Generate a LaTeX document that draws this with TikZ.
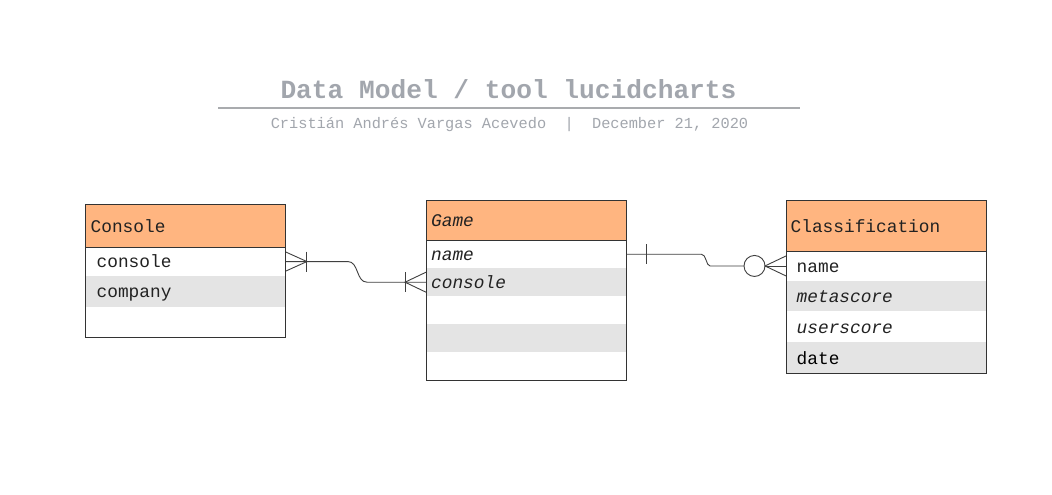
\documentclass[tikz,border=0pt]{standalone}
\usepackage{fontspec}
\setmainfont{Liberation Mono}
\setmonofont{Liberation Mono}
\definecolor{hdrfill}{HTML}{FFB580}
\definecolor{rowgray}{HTML}{E4E4E4}
\definecolor{titlegray}{HTML}{A2A6AD}
\definecolor{rulegray}{HTML}{A9ABAE}
\definecolor{txtc}{HTML}{222222}
\definecolor{framec}{HTML}{333333}
\definecolor{linec}{HTML}{404040}
\newcommand{\tblfont}{\fontsize{17.8pt}{21pt}\selectfont}
\begin{document}
\begin{tikzpicture}[x=1pt,y=-1pt,
  cell/.style={anchor=north west, inner sep=0pt, minimum width=200pt, draw=none},
  hdr/.style={cell, fill=hdrfill},
  cellw/.style={cell, fill=white},
  cellg/.style={cell, fill=rowgray},
  frame/.style={draw=framec, line width=0.9pt},
  lbl/.style={anchor=base west, inner sep=0pt, font=\tblfont, text=txtc},
  ilbl/.style={lbl, font=\tblfont\itshape},
  conn/.style={draw=linec, line width=0.9pt},
  ttl/.style={anchor=base, inner sep=0pt, text=titlegray}
  ]
\useasboundingbox (0,0) rectangle (1052,495);
\fill[white] (0,0) rectangle (1052,495);

% Title block
\node[ttl, font=\fontsize{26.2pt}{30pt}\selectfont\bfseries] (title) at (508.5,98.3) {Data Model / tool lucidcharts};
\node[ttl, font=\fontsize{15.3pt}{18pt}\selectfont] (subtitle) at (509.5,128) {Cristián Andrés Vargas Acevedo~~|~~December 21, 2020};
\draw[rulegray, line width=1.8pt] (218,107.7) -- (800,107.7);

% Console table
\node[hdr, minimum height=42.4pt] (conh) at (85.5,204.3) {};
\node[cellw, minimum height=29.3pt] (con1) at (85.5,246.7) {};
\node[cellg, minimum height=30.7pt] (con2) at (85.5,276) {};
\node[cellw, minimum height=30.6pt] (con3) at (85.5,306.7) {};
\draw[frame] (conh.north west) rectangle (con3.south east);
\draw[frame] (conh.south west) -- (conh.south east);
\node[lbl] (conht) at ([xshift=5pt,yshift=-6.3pt]conh.west) {Console};
\node[lbl] (con1t) at ([xshift=11pt,yshift=-6.2pt]con1.west) {console};
\node[lbl] (con2t) at ([xshift=11pt,yshift=-6.2pt]con2.west) {company};

% Game table
\node[hdr, minimum height=39.3pt] (gameh) at (426,200.7) {};
\node[cellw, minimum height=28pt] (game1) at (426,240) {};
\node[cellg, minimum height=28pt] (game2) at (426,268) {};
\node[cellw, minimum height=28pt] (game3) at (426,296) {};
\node[cellg, minimum height=28pt] (game4) at (426,324) {};
\node[cellw, minimum height=28pt] (game5) at (426,352) {};
\draw[frame] (gameh.north west) rectangle (game5.south east);
\draw[frame] (gameh.south west) -- (gameh.south east);
\node[ilbl] (gameht) at ([xshift=5pt,yshift=-6.3pt]gameh.west) {Game};
\node[ilbl] (game1t) at ([xshift=5pt,yshift=-6.3pt]game1.west) {name};
\node[ilbl] (game2t) at ([xshift=5pt,yshift=-6.3pt]game2.west) {console};

% Classification table
\node[hdr, minimum height=50.3pt] (clsh) at (786,200.7) {};
\node[cellw, minimum height=29.5pt] (cls1) at (786,251) {};
\node[cellg, minimum height=30.5pt] (cls2) at (786,280.5) {};
\node[cellw, minimum height=31pt] (cls3) at (786,311) {};
\node[cellg, minimum height=30.7pt] (cls4) at (786,342) {};
\draw[frame] (clsh.north west) rectangle (cls4.south east);
\draw[frame] (clsh.south west) -- (clsh.south east);
\node[lbl] (clsht) at ([xshift=4.5pt,yshift=-6.7pt]clsh.west) {Classification};
\node[lbl] (cls1t) at ([xshift=10.5pt,yshift=-6.2pt]cls1.west) {name};
\node[ilbl] (cls2t) at ([xshift=10.5pt,yshift=-6.9pt]cls2.west) {metascore};
\node[ilbl] (cls3t) at ([xshift=10.5pt,yshift=-6.8pt]cls3.west) {userscore};
\node[lbl, text=black] (cls4t) at ([xshift=10.5pt,yshift=-6.6pt]cls4.west) {date};

% Console -- Game connector
\draw[conn] (con1.east) -- ++(62,0) .. controls +(11,0) and +(-11,0) .. ([xshift=-59pt]game2.west) -- (game2.west);
% crow's foot + bar at Console side
\draw[conn] ([yshift=9.5pt]con1.east) -- ([xshift=21pt]con1.east) -- ([yshift=-9.5pt]con1.east);
\draw[conn] ([xshift=21pt,yshift=10pt]con1.east) -- ([xshift=21pt,yshift=-10pt]con1.east);
% crow's foot + bar at Game side
\draw[conn] ([yshift=10pt]game2.west) -- ([xshift=-21pt]game2.west) -- ([yshift=-10pt]game2.west);
\draw[conn] ([xshift=-21pt,yshift=10pt]game2.west) -- ([xshift=-21pt,yshift=-10pt]game2.west);

% Game -- Classification connector
\draw[conn] (game1.east) -- ++(75,0) .. controls +(5,0) and +(-4,0) .. ([xshift=-76pt]cls1.west) -- ([xshift=-42pt]cls1.west);
\draw[conn] ([xshift=20pt,yshift=10pt]game1.east) -- ([xshift=20pt,yshift=-10pt]game1.east);
\node[conn, circle, inner sep=0pt, minimum size=21pt, fill=white] (zero) at ([xshift=-31.5pt]cls1.west) {};
\draw[conn] ([yshift=10pt]cls1.west) -- ([xshift=-21pt]cls1.west) -- ([yshift=-10pt]cls1.west);
\draw[conn] (zero.east) -- (cls1.west);
\end{tikzpicture}
\end{document}
